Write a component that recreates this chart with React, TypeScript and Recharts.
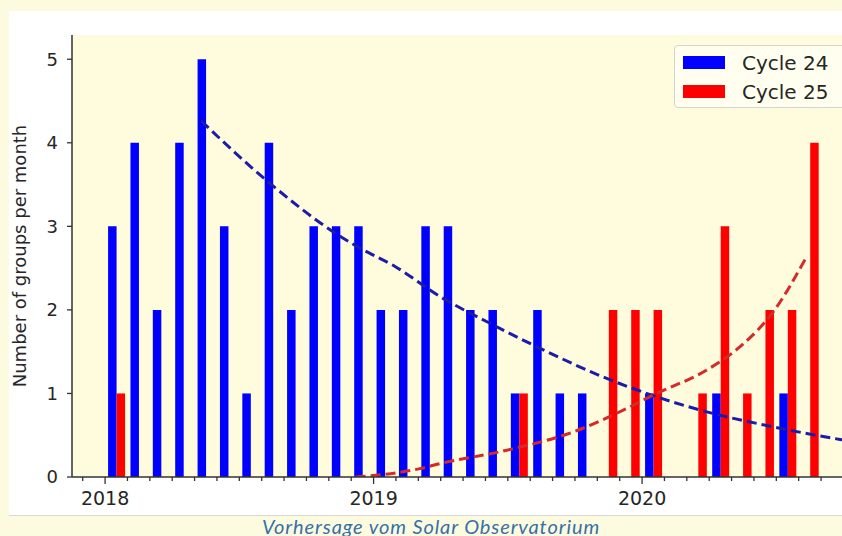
import { Bar, CartesianGrid, ComposedChart, Legend, Line, XAxis, YAxis } from "recharts";

// months from Dec 2017 to Sep 2020 (index 0 = Dec 2017)
const months = [
  "2017-12", "2018-01", "2018-02", "2018-03", "2018-04", "2018-05", "2018-06", "2018-07", "2018-08",
  "2018-09", "2018-10", "2018-11", "2018-12", "2019-01", "2019-02", "2019-03", "2019-04", "2019-05",
  "2019-06", "2019-07", "2019-08", "2019-09", "2019-10", "2019-11", "2019-12", "2020-01", "2020-02",
  "2020-03", "2020-04", "2020-05", "2020-06", "2020-07", "2020-08", "2020-09",
];
const cycle24 = [0, 3, 4, 2, 4, 5, 3, 1, 4, 2, 3, 3, 3, 2, 2, 3, 3, 2, 2, 1, 2, 1, 1, 0, 0, 1, 0, 0, 1, 0, 0, 1, 0, 0];
const cycle25 = [0, 1, 0, 0, 0, 0, 0, 0, 0, 0, 0, 0, 0, 0, 0, 0, 0, 0, 0, 1, 0, 0, 0, 2, 2, 2, 0, 1, 3, 1, 2, 2, 4, 0];

// dashed fit curves (t = months since start of Dec 2017)
const fit24T = [5.3, 8.3, 11.28, 12.32, 13.96, 15.97, 18.2, 20.44, 23.42, 25.65, 27.89, 30.87, 33.85, 34.6];
const fit24V = [4.26, 3.53, 2.92, 2.75, 2.52, 2.16, 1.84, 1.54, 1.18, 0.96, 0.78, 0.6, 0.45, 0.42];
const fit25T = [12.2, 15.07, 15.97, 18.95, 21.93, 24.16, 25.65, 27.89, 29.38, 30.87, 32.36];
const fit25V = [0, 0.1, 0.16, 0.32, 0.54, 0.8, 1.0, 1.28, 1.56, 1.98, 2.64];

const yTicks = [0, 1, 2, 3, 4, 5];
const monthTicks = months.map((_, i) => i).concat([months.length]);
const yearTickIndex = [1, 13, 25];
const yearLabels = ["2018", "2019", "2020"];

const barData = months.map((m, i) => ({ month: m, c24: cycle24[i], c25: cycle25[i] }));
const fit24Data = fit24T.map((t, i) => ({ t, v: fit24V[i] }));
const fit25Data = fit25T.map((t, i) => ({ t, v: fit25V[i] }));

const FONT = "'DejaVu Sans', sans-serif";

function MonthTick(props: any) {
  const { x, y, payload } = props;
  const k = yearTickIndex.indexOf(payload.value);
  const major = k >= 0;
  return (
    <g>
      <line x1={x} x2={x} y1={y} y2={y + (major ? 7 : 4)} stroke="#333" strokeWidth={1.3} />
      {major && (
        <text x={x} y={y + 28} textAnchor="middle" fontSize={19} fill="#262626" fontFamily={FONT}>
          {yearLabels[k]}
        </text>
      )}
    </g>
  );
}

function LegendBox() {
  const items = [
    { name: "Cycle 24", color: "#0000ff" },
    { name: "Cycle 25", color: "#ff0000" },
  ];
  return (
    <div
      style={{
        width: 184,
        height: 63,
        border: "1px solid #d4d4d0",
        borderRadius: 4,
        background: "rgba(255,255,255,0.55)",
        boxSizing: "border-box",
        paddingTop: 2,
        fontFamily: FONT,
      }}
    >
      {items.map((it) => (
        <div key={it.name} style={{ display: "flex", alignItems: "center", height: 29 }}>
          <span style={{ display: "inline-block", width: 42, height: 13, marginLeft: 8, background: it.color }} />
          <span style={{ marginLeft: 17, fontSize: 20, color: "#262626", lineHeight: "20px" }}>{it.name}</span>
        </div>
      ))}
    </div>
  );
}

export default function App() {
  return (
    <div
      style={{
        position: "absolute",
        left: 0,
        top: 0,
        width: 842,
        height: 536,
        overflow: "hidden",
        background: "#fdfbdf",
      }}
    >
      <div
        style={{
          position: "absolute",
          left: 9,
          top: 11,
          width: 860,
          height: 505,
          background: "#ffffff",
          borderBottom: "1px solid #d8d8d8",
          boxSizing: "border-box",
        }}
      >
        <ComposedChart
          width={860}
          height={505}
          data={barData}
          margin={{ top: 24, right: 16, bottom: 0, left: 0 }}
          barGap={0}
        >
          <CartesianGrid xAxisId="time" horizontal={false} vertical={false} fill="#fefcdc" stroke="none" />
          <XAxis xAxisId="cat" dataKey="month" hide height={0} padding={{ left: 10.7, right: 9.55 }} />
          <XAxis
            xAxisId="time"
            dataKey="t"
            type="number"
            domain={[0, 34]}
            allowDataOverflow
            ticks={monthTicks}
            interval={0}
            height={39}
            padding={{ left: 10.7, right: 9.55 }}
            tickSize={0}
            tickMargin={0}
            tickLine={false}
            tick={<MonthTick />}
            axisLine={{ stroke: "#333", strokeWidth: 1.5 }}
          />
          <XAxis
            xAxisId="top"
            orientation="top"
            type="number"
            domain={[0, 1]}
            height={0}
            tick={false}
            tickLine={false}
            axisLine={{ stroke: "#333", strokeWidth: 1.5 }}
          />
          <YAxis
            width={63}
            domain={[0, 5.29]}
            ticks={yTicks}
            allowDataOverflow
            tickSize={5}
            tickMargin={9}
            tickLine={{ stroke: "#333", strokeWidth: 1.3 }}
            axisLine={{ stroke: "#333", strokeWidth: 1.5 }}
            tick={{ fontSize: 18, fill: "#262626", fontFamily: FONT }}
            label={{
              value: "Number of groups per month",
              angle: -90,
              position: "insideLeft",
              offset: 11,
              style: { textAnchor: "middle", fontSize: 18, fill: "#262626", fontFamily: FONT },
            }}
          />
          <Legend
            layout="horizontal"
            verticalAlign="middle"
            align="center"
            wrapperStyle={{ left: 665, top: 34, width: 184, height: 63 }}
            content={() => <LegendBox />}
          />
          <Bar xAxisId="cat" dataKey="c24" name="Cycle 24" fill="#0000ff" barSize={8.5} isAnimationActive={false} />
          <Bar xAxisId="cat" dataKey="c25" name="Cycle 25" fill="#ff0000" barSize={8.5} isAnimationActive={false} />
          <Line
            xAxisId="time"
            data={fit24Data}
            dataKey="v"
            type="monotone"
            stroke="#1c1ca8"
            strokeWidth={3}
            strokeDasharray="10 5"
            dot={false}
            activeDot={false}
            legendType="none"
            isAnimationActive={false}
          />
          <Line
            xAxisId="time"
            data={fit25Data}
            dataKey="v"
            type="monotone"
            stroke="#d42a2a"
            strokeWidth={3}
            strokeDasharray="10 5"
            dot={false}
            activeDot={false}
            legendType="none"
            isAnimationActive={false}
          />
        </ComposedChart>
      </div>
      <div
        style={{
          position: "absolute",
          left: 0,
          top: 517,
          width: 862,
          textAlign: "center",
          fontFamily: "Lato, 'Open Sans', sans-serif",
          fontStyle: "italic",
          fontSize: 20,
          letterSpacing: 0.9,
          lineHeight: "19px",
          color: "#3570a8",
          whiteSpace: "nowrap",
        }}
      >
        Vorhersage vom Solar Observatorium
      </div>
    </div>
  );
}
